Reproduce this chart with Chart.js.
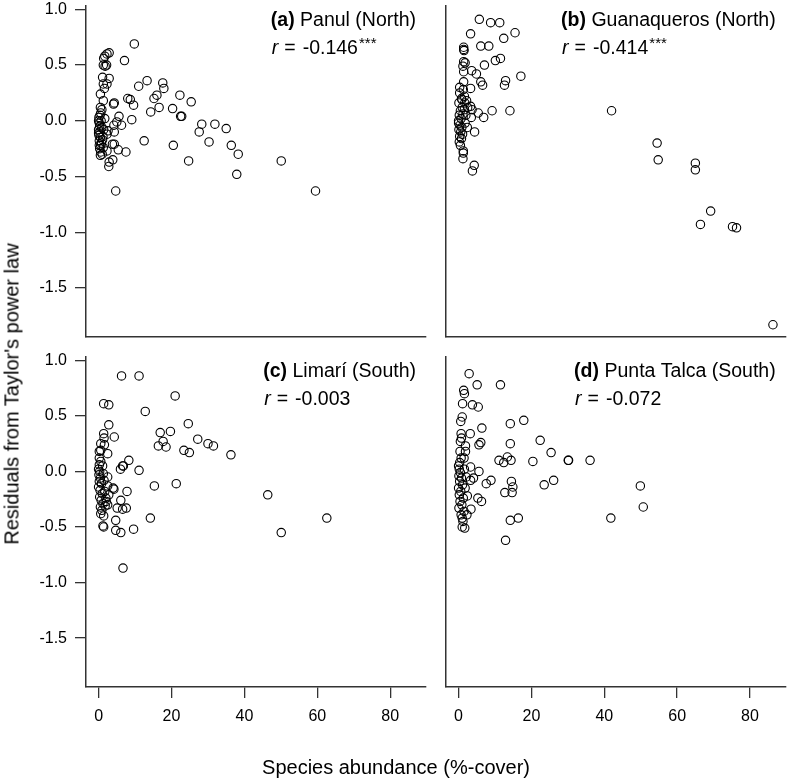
<!DOCTYPE html>
<html>
<head>
<meta charset="utf-8">
<script src="https://cdn.jsdelivr.net/npm/chart.js@4"></script>
<style>
  body { margin: 0; background: #fff; font-family: "Liberation Sans", Arial, Helvetica, sans-serif; }
  #wrap { position: relative; width: 791px; height: 781px; overflow: hidden; }
  canvas { position: absolute; }
  .ytitle { position: absolute; left: 12px; top: 394px; transform: translate(-50%, -50%) rotate(-90deg); font-size: 20px; white-space: nowrap; color: #000; }
  .xtitle { position: absolute; left: 396px; top: 767px; transform: translate(-50%, -50%); font-size: 20px; white-space: nowrap; color: #000; }
</style>
</head>
<body>
<div id="wrap">
  <canvas id="pa" width="436" height="346" style="left:0;top:0"></canvas>
  <canvas id="pb" width="355" height="346" style="left:436px;top:0"></canvas>
  <canvas id="pc" width="436" height="435" style="left:0;top:346px"></canvas>
  <canvas id="pd" width="355" height="435" style="left:436px;top:346px"></canvas>
  <div class="ytitle">Residuals from Taylor's power law</div>
  <div class="xtitle">Species abundance (%-cover)</div>
</div>
<script>
// tick labels
const xTicks = [0, 20, 40, 60, 80];
const yTicks = [-1.5, -1.0, -0.5, 0.0, 0.5, 1.0];

// (a) Panul (North)
const panulX = [9.8, 7.1, 2.9, 2.3, 1.7, 1.4, 1.3, 1.8, 2.2, 1.1, 2.9, 1.3, 2.3, 1.6, 0.5, 1.3, 0.5, 0.6, 4.3, 4.1,
  8.0, 8.7, 9.6, 9.1, 5.6, 5.0, 6.3, 4.2, 4.3, 11.0, 13.3, 17.6, 17.9, 16.0, 15.2, 16.6, 14.3, 22.3, 20.3, 25.4,
  22.5, 22.8, 28.3, 27.6, 31.9, 35.0, 30.3, 36.4, 38.3, 37.9, 24.7, 20.5, 12.5, 50.1, 59.5, 4.7, 5.4, 7.5, 4.3, 3.8,
  2.8, 2.9, 3.9, 2.3, 0.5, 0.6, 2.3, 2.6, 1.7,
  0.0, 0.2, 0.1, 0.3, 0.0, 0.4, 0.1, 0.5, 0.2, 0.8, 0.3, 1.0, 0.6, 0.9, 1.2, 0.7, 0.4, 1.1, 0.0, 0.2, 1.4, 0.9, 1.3];
const panulY = [0.69, 0.54, 0.61, 0.60, 0.58, 0.56, 0.50, 0.49, 0.50, 0.39, 0.38, 0.33, 0.33, 0.29, 0.24, 0.18, 0.12, 0.07, 0.16, 0.15,
  0.20, 0.19, 0.14, 0.01, 0.04, -0.01, -0.04, -0.04, -0.10, 0.31, 0.36, 0.34, 0.29, 0.23, 0.20, 0.12, 0.08, 0.23, 0.11, 0.17,
  0.04, 0.04, -0.03, -0.10, -0.03, -0.07, -0.19, -0.22, -0.30, -0.48, -0.36, -0.22, -0.18, -0.36, -0.63, -0.63, -0.26, -0.28, -0.21, -0.21,
  -0.41, -0.37, -0.35, -0.27, -0.31, -0.22, -0.12, -0.09, 0.02,
  0.00, -0.02, 0.03, -0.05, -0.08, -0.10, -0.13, -0.15, -0.18, -0.20, -0.25, -0.30, -0.28, -0.06, -0.14, 0.00, 0.05, -0.17, -0.11, -0.22, -0.08, 0.10, -0.24];

// (b) Guanaqueros (North)
const guanX = [5.7, 8.8, 11.3, 3.3, 12.4, 15.5, 6.1, 8.3, 1.4, 1.4, 1.5, 10.1, 11.5, 7.1, 1.4, 1.8, 1.2, 3.6, 4.9, 1.4,
  17.1, 12.9, 12.6, 6.1, 6.6, 1.4, 3.3, 1.3, 1.6, 0.9, 3.3, 3.7, 5.4, 6.9, 9.2, 14.1, 3.5, 42.0, 54.5, 54.8,
  65.0, 65.0, 69.2, 66.4, 75.2, 76.3, 86.3, 4.3, 3.8, 1.3, 1.2, 1.3, 4.4, 2.4,
  0.3, 0.8, 0.1, 1.0, 0.5, 0.2, 1.2, 0.7, 0.0, 0.4, 0.9, 0.1, 0.6, 1.1, 0.3, 0.8, 0.2, 0.5, 1.6, 2.0, 2.5, 1.8, 0.0, 0.3, 1.7, 2.2];
const guanY = [0.91, 0.88, 0.88, 0.78, 0.74, 0.79, 0.67, 0.67, 0.66, 0.64, 0.63, 0.54, 0.56, 0.50, 0.53, 0.52, 0.49, 0.45, 0.42, 0.44,
  0.40, 0.36, 0.32, 0.35, 0.32, 0.35, 0.29, 0.28, 0.22, 0.19, 0.13, 0.10, 0.07, 0.03, 0.09, 0.09, 0.03, 0.09, -0.20, -0.35,
  -0.38, -0.44, -0.81, -0.93, -0.95, -0.96, -1.83, -0.40, -0.45, -0.29, -0.34, -0.27, -0.10, -0.06,
  0.25, 0.20, 0.16, 0.12, 0.09, 0.05, 0.06, 0.02, -0.02, -0.04, -0.06, -0.08, -0.10, -0.12, -0.14, -0.16, -0.19, -0.22, 0.10, 0.05, 0.12, -0.02, 0.00, 0.30, 0.16, 0.18];

// (c) Limarí (South)
const limariX = [6.3, 11.1, 21.0, 1.4, 2.8, 12.8, 2.8, 24.6, 16.9, 19.7, 4.3, 1.4, 1.5, 27.2, 17.7, 16.4, 18.5, 30.0, 31.5, 23.4,
  24.9, 36.3, 0.6, 1.6, 0.6, 0.2, 2.5, 0.2, 0.6, 8.3, 6.6, 6.8, 6.0, 11.1, 2.5, 4.0, 4.2, 7.8, 15.3, 21.3,
  2.5, 2.8, 2.0, 2.5, 6.1, 5.1, 6.6, 7.6, 4.7, 14.2, 4.7, 6.1, 9.6, 1.4, 1.4, 1.2, 6.7, 46.4, 50.1, 62.6,
  0.0, 0.3, 0.1, 0.5, 0.2, 0.8, 0.0, 0.4, 1.0, 0.3, 0.7, 1.2, 0.5, 1.8, 0.9, 1.1, 1.5, 0.2, 1.7, 0.6, 2.1, 1.3];
const limariY = [0.86, 0.86, 0.68, 0.61, 0.60, 0.54, 0.42, 0.43, 0.35, 0.36, 0.31, 0.34, 0.30, 0.29, 0.27, 0.23, 0.22, 0.25, 0.23, 0.19,
  0.17, 0.15, 0.25, 0.24, 0.19, 0.18, 0.16, 0.12, 0.09, 0.10, 0.05, 0.05, 0.02, 0.01, -0.05, -0.15, -0.16, -0.18, -0.13, -0.11,
  -0.13, -0.21, -0.24, -0.30, -0.26, -0.33, -0.34, -0.33, -0.44, -0.42, -0.53, -0.55, -0.52, -0.40, -0.50, -0.49, -0.87, -0.21, -0.55, -0.42,
  0.02, 0.00, -0.03, -0.06, -0.09, -0.11, -0.14, -0.17, -0.20, -0.23, -0.26, -0.29, -0.32, -0.31, -0.35, 0.05, -0.08, 0.06, -0.18, -0.38, -0.27, -0.02];

// (d) Punta Talca (South)
const talcaX = [2.9, 5.1, 11.5, 1.4, 1.6, 1.1, 3.8, 5.4, 1.0, 0.6, 14.2, 17.9, 6.4, 3.2, 0.7, 0.8, 0.5, 14.2, 22.4, 6.1,
  5.6, 1.9, 1.9, 1.5, 0.4, 0.7, 25.4, 13.4, 14.4, 11.1, 12.4, 20.4, 30.1, 30.2, 36.1, 3.3, 5.6, 8.9, 7.6, 4.1,
  3.3, 14.5, 14.9, 14.7, 12.7, 23.5, 26.1, 49.9, 50.7, 41.8, 5.3, 6.3, 3.4, 2.3, 14.2, 16.4, 1.0, 1.0, 1.7, 12.9,
  0.0, 0.2, 0.5, 0.1, 0.8, 0.3, 1.1, 0.0, 0.6, 0.2, 1.3, 0.4, 0.9, 0.1, 1.5, 0.7, 1.8, 2.1, 1.6, 0.3, 1.2, 2.4];
const talcaY = [0.88, 0.78, 0.78, 0.73, 0.70, 0.61, 0.60, 0.58, 0.49, 0.45, 0.43, 0.46, 0.39, 0.34, 0.34, 0.30, 0.27, 0.25, 0.28, 0.26,
  0.24, 0.23, 0.18, 0.12, 0.18, 0.12, 0.17, 0.13, 0.10, 0.10, 0.08, 0.09, 0.10, 0.10, 0.10, 0.04, 0.00, -0.08, -0.11, -0.06,
  -0.08, -0.09, -0.14, -0.19, -0.19, -0.12, -0.08, -0.13, -0.32, -0.42, -0.24, -0.27, -0.34, -0.39, -0.44, -0.42, -0.42, -0.50, -0.51, -0.62,
  0.05, 0.02, -0.01, -0.04, -0.06, -0.09, -0.12, -0.15, -0.18, -0.21, -0.24, -0.27, -0.30, -0.33, -0.36, -0.39, -0.15, -0.05, 0.02, 0.08, -0.45, -0.22];

const FONT = '"Liberation Sans", Arial, Helvetica, sans-serif';
const AXIS_COLOR = '#333';

// draws "(a) Panul (North)" and "r = ..." in the top right corner
const panelText = {
  id: 'panelText',
  afterDraw(chart, args, opts) {
    const { ctx, chartArea } = chart;
    ctx.save();
    ctx.fillStyle = '#000';
    ctx.textBaseline = 'middle';
    ctx.textAlign = 'left';
    const right = chartArea.right - 10;
    const y1 = chartArea.top + 15;
    const y2 = chartArea.top + 43;
    ctx.font = 'bold 19.5px ' + FONT;
    const wTag = ctx.measureText(opts.tag).width;
    ctx.font = '19.5px ' + FONT;
    const wName = ctx.measureText(opts.name).width;
    const left = right - wTag - wName;
    ctx.font = 'bold 19.5px ' + FONT;
    ctx.fillText(opts.tag, left, y1);
    ctx.font = '19.5px ' + FONT;
    ctx.fillText(opts.name, left + wTag, y1);

    // r == value, with wider gaps round "=" like plotmath
    let x = left + 1;
    ctx.font = 'italic 19.5px ' + FONT;
    ctx.fillText('r', x, y2);
    x += ctx.measureText('r').width + 6;
    ctx.font = '19.5px ' + FONT;
    ctx.fillText('=', x, y2);
    x += ctx.measureText('=').width + 7;
    ctx.fillText(opts.r, x, y2);
    x += ctx.measureText(opts.r).width;
    if (opts.stars) {
      ctx.font = '15px ' + FONT;
      ctx.fillText(opts.stars, x + 1, y2 - 5);
    }
    ctx.restore();
  }
};

function makePanel(id, xs, ys, label, showY, showX) {
  const points = xs.map((x, i) => ({ x: x, y: ys[i] }));
  const canvas = document.getElementById(id);
  const tickFont = { family: FONT, size: 16 };
  return new Chart(canvas.getContext('2d'), {
    type: 'scatter',
    data: {
      datasets: [{
        data: points,
        pointStyle: 'circle',
        pointRadius: 4.2,
        pointBorderWidth: 1.1,
        borderColor: '#000',
        backgroundColor: 'rgba(0,0,0,0)',
        pointBackgroundColor: 'rgba(0,0,0,0)'
      }]
    },
    plugins: [panelText],
    options: {
      responsive: false,
      animation: false,
      devicePixelRatio: 1,
      layout: {
        padding: {
          top: showX ? 11 : 6,
          right: showY ? 10 : 5,
          bottom: showX ? 34 : 9,
          left: 0
        }
      },
      plugins: {
        legend: { display: false },
        tooltip: { enabled: false },
        panelText: label
      },
      scales: {
        x: {
          type: 'linear',
          min: -3.45,
          max: 89.8,
          afterBuildTicks: s => { s.ticks = xTicks.map(v => ({ value: v })); },
          afterFit: s => {
            s.height = showX ? 60 : 0;
            s.paddingLeft = 0;
            s.paddingRight = 0;
          },
          border: { display: true, color: AXIS_COLOR, width: 1.5 },
          grid: { display: showX, drawOnChartArea: false, drawTicks: showX, tickLength: 11, color: AXIS_COLOR, lineWidth: 1.3 },
          ticks: { display: showX, color: '#000', font: tickFont, padding: 9, maxRotation: 0 }
        },
        y: {
          type: 'linear',
          min: -1.94,
          max: 1.03,
          afterBuildTicks: s => { s.ticks = yTicks.map(v => ({ value: v })); },
          afterFit: s => {
            s.width = showY ? 86 : 10;
            s.paddingTop = 0;
            s.paddingBottom = 0;
          },
          border: { display: true, color: AXIS_COLOR, width: 1.5 },
          grid: { display: showY, drawOnChartArea: false, drawTicks: showY, tickLength: 11, color: AXIS_COLOR, lineWidth: 1.3 },
          ticks: { display: showY, color: '#000', font: tickFont, padding: 8, callback: v => v.toFixed(1) }
        }
      }
    }
  });
}

makePanel('pa', panulX, panulY, { tag: '(a)', name: ' Panul (North)', r: '-0.146', stars: '***' }, true, false);
makePanel('pb', guanX, guanY, { tag: '(b)', name: ' Guanaqueros (North)', r: '-0.414', stars: '***' }, false, false);
makePanel('pc', limariX, limariY, { tag: '(c)', name: ' Limarí (South)', r: '-0.003', stars: '' }, true, true);
makePanel('pd', talcaX, talcaY, { tag: '(d)', name: ' Punta Talca (South)', r: '-0.072', stars: '' }, false, true);
</script>
</body>
</html>
